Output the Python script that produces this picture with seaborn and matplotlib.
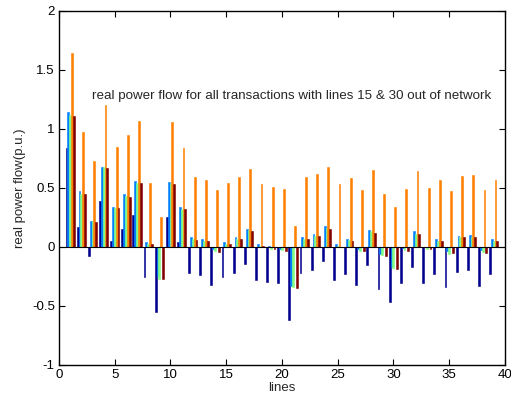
import matplotlib
matplotlib.use("Agg")
import matplotlib.pyplot as plt
import seaborn as sns
import pandas as pd
import numpy as np

lines = list(range(1, 40))
series_names = ["s1", "s2", "s3", "s4", "s5"]
s1 = [0.84, 0.17, -0.08, 0.39, 0.05, 0.15, 0.27, -0.26, -0.55, 0.25,
      0.04, -0.22, -0.24, -0.32, -0.26, -0.22, -0.15, -0.28, -0.30, -0.31,
      -0.62, -0.22, -0.195, -0.12, -0.28, -0.23, -0.32, -0.155, -0.36, -0.47,
      -0.31, -0.17, -0.305, -0.23, -0.34, -0.21, -0.20, -0.33, -0.23]
s2 = [1.14, 0.47, 0.22, 0.68, 0.34, 0.45, 0.56, 0.04, -0.25, 0.55,
      0.34, 0.08, 0.065, -0.02, 0.04, 0.08, 0.15, 0.02, 0.005, -0.02,
      -0.33, 0.08, 0.11, 0.18, 0.02, 0.07, -0.02, 0.14, -0.06, -0.17,
      -0.01, 0.13, 0.0, 0.07, -0.035, 0.09, 0.10, -0.025, 0.07]
s3 = [1.12, 0.45, 0.22, 0.68, 0.33, 0.43, 0.54, 0.02, -0.27, 0.54,
      0.32, 0.07, 0.05, -0.04, 0.02, 0.07, 0.14, 0.01, -0.02, -0.03,
      -0.34, 0.07, 0.09, 0.16, 0.005, 0.06, -0.04, 0.13, -0.07, -0.18,
      -0.03, 0.11, -0.02, 0.05, -0.06, 0.08, 0.085, -0.045, 0.05]
s4 = [1.64, 0.97, 0.73, 1.20, 0.85, 0.95, 1.07, 0.54, 0.25, 1.06,
      0.84, 0.59, 0.57, 0.48, 0.54, 0.59, 0.66, 0.53, 0.51, 0.49,
      0.18, 0.59, 0.62, 0.68, 0.53, 0.58, 0.48, 0.65, 0.45, 0.34,
      0.49, 0.64, 0.50, 0.57, 0.47, 0.60, 0.61, 0.48, 0.57]
s5 = [1.11, 0.45, 0.21, 0.67, 0.33, 0.42, 0.54, 0.02, -0.27, 0.53,
      0.32, 0.06, 0.05, -0.045, 0.02, 0.065, 0.13, 0.01, -0.015, -0.04,
      -0.35, 0.07, 0.09, 0.15, 0.0, 0.045, -0.04, 0.12, -0.08, -0.19,
      -0.035, 0.11, -0.02, 0.05, -0.055, 0.08, 0.085, -0.05, 0.05]

colors = ["#00008F", "#0080FF", "#80FF80", "#FF8000", "#800000"]

rows = []
for name, vals in zip(series_names, [s1, s2, s3, s4, s5]):
    for ln, v in zip(lines, vals):
        rows.append({"line": ln, "value": v, "series": name})
df = pd.DataFrame(rows)

sns.set_style("white")
plt.rcParams["font.family"] = ["Liberation Sans", "DejaVu Sans"]

fig = plt.figure(figsize=(5.11, 4.03), dpi=100)
ax = fig.add_axes([0.1155, 0.095, 0.8725, 0.878])

sns.barplot(data=df, x="line", y="value", hue="series", hue_order=series_names,
            palette=colors, native_scale=True, width=0.83, errorbar=None,
            saturation=1, linewidth=0, legend=False, ax=ax)
for p in ax.patches:
    p.set_edgecolor(p.get_facecolor())
    p.set_linewidth(0.4)

ax.axhline(0, color="black", lw=0.8, zorder=5)
ax.set_xlim(0, 40)
ax.set_ylim(-1, 2)
ax.set_xticks([0, 5, 10, 15, 20, 25, 30, 35, 40])
ax.set_yticks([-1, -0.5, 0, 0.5, 1, 1.5, 2])
ax.set_yticklabels(["-1", "-0.5", "0", "0.5", "1", "1.5", "2"])
ax.tick_params(direction="in", length=4, width=0.8, labelsize=9.5, pad=3,
               top=True, right=True, bottom=True, left=True, colors="black")
for sp in ax.spines.values():
    sp.set_visible(True)
    sp.set_color("black")
    sp.set_linewidth(1.0)
ax.set_xlabel("lines", fontsize=9.5, labelpad=1)
ax.set_ylabel("real power flow(p.u.)", fontsize=9.5, labelpad=4)
ax.text(2.96, 1.28, "real power flow for all transactions with lines 15 & 30 out of network",
        fontsize=9.6, ha="left", va="center")

fig.savefig("out.png", dpi=100)
